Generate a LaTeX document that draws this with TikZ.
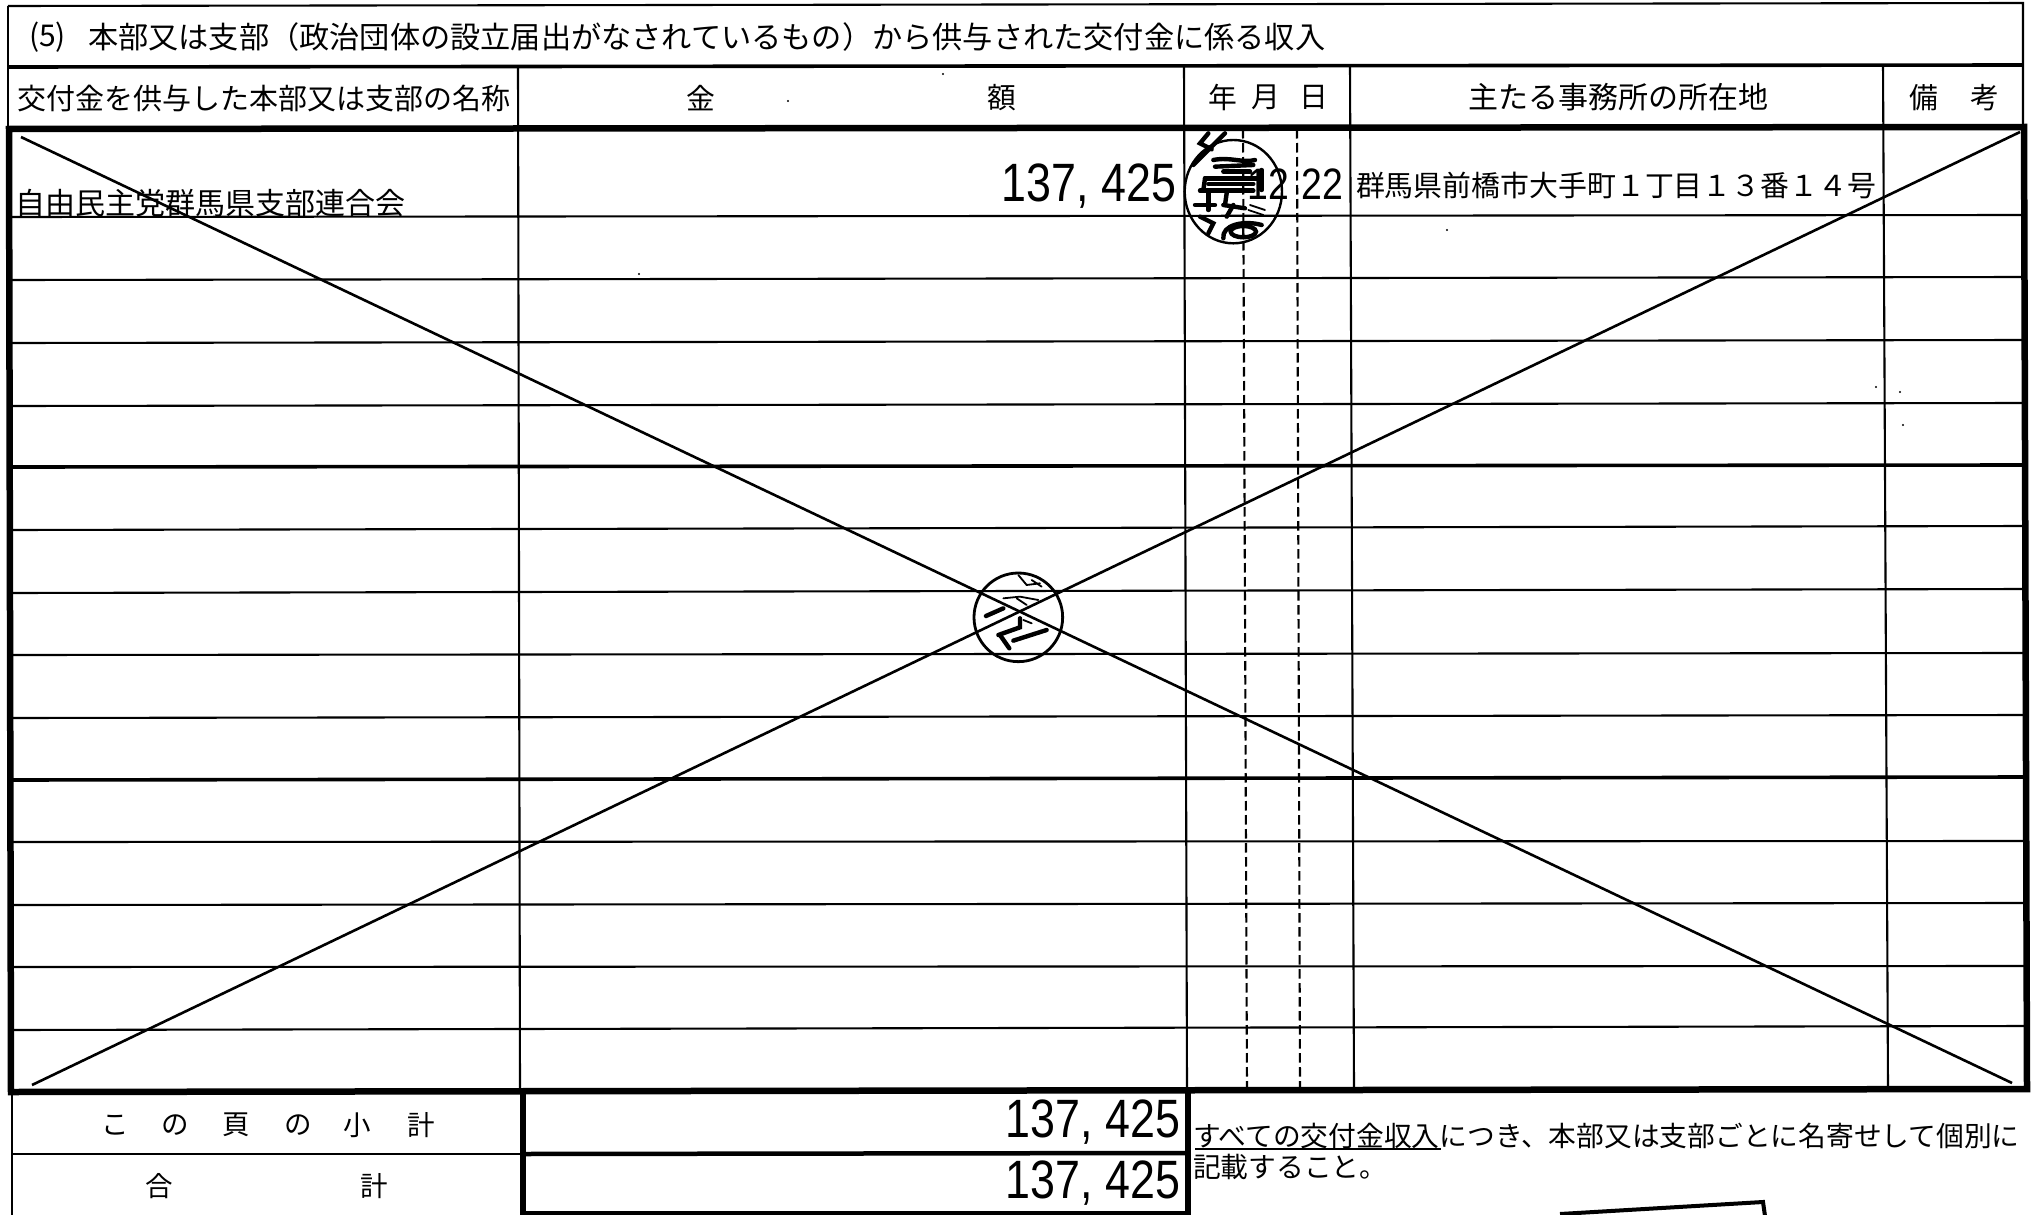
\documentclass[tikz,border=0pt]{standalone}
\usepackage{fontspec}
\setmainfont{Noto Sans CJK JP}
\newfontfamily\digitfont{Liberation Sans}
\newcommand{\amount}[1]{\scalebox{.83}[1]{\digitfont\fontsize{54pt}{60pt}\selectfont #1}}
\newcommand{\smallamount}[1]{\scalebox{.85}[1]{\digitfont\fontsize{44pt}{50pt}\selectfont #1}}
\tikzset{
  thinrule/.style={line width=2.1pt,black},
  midrule/.style={line width=3.6pt,black},
  thickrule/.style={line width=6.5pt,black},
  crossline/.style={line width=2.6pt,black},
  sealline/.style={line width=1.8pt,black,line cap=round},
  sealblob/.style={line width=4.4pt,black,line cap=round},
  txtbase/.style={inner sep=0pt,outer sep=0pt,black},
  txtA/.style={txtbase,font=\fontsize{30pt}{36pt}\selectfont},
  txtB/.style={txtbase,font=\fontsize{28.8pt}{34pt}\selectfont},
  txtC/.style={txtbase,font=\fontsize{27.5pt}{33pt}\selectfont},
}
\begin{document}
\begin{tikzpicture}[x=1pt,y=-1pt]
\path[use as bounding box,fill=white] (0,0) rectangle (2035,1215);

% header frame
\draw[thinrule] (8,6) -- (2023,3) -- (2023,127);
\draw[thinrule] (8,6) -- (8,129);
\draw[midrule] (8,67) -- (2023,65);

% columns
\draw[thinrule] (518,67) -- (520,1092);
\draw[thinrule] (1184,66) -- (1187,1089);
\draw[thinrule] (1350,66) -- (1354,1089);
\draw[thinrule] (1883,65) -- (1888,1089);
\draw[thinrule,dash pattern=on 9.5pt off 4.5pt] (1243,129) -- (1247,1089);
\draw[thinrule,dash pattern=on 9.5pt off 4.5pt] (1297,129) -- (1300,1089);

% rows
\foreach \ya/\yb in {217/215,280/277,343/340,406/403,530/526,593/589,655/653,718/715,842/841,905/903,967/966,1030/1026}
  \draw[thinrule] (10,\ya) -- (2026,\yb);
\foreach \ya/\yb in {467/465,780/777}
  \draw[midrule] (10,\ya) -- (2026,\yb);

% thick outer frame
\draw[thickrule,line join=miter] (9,129) -- (2024,127) -- (2027,1089) -- (11,1092) -- cycle;

% subtotal block
\draw[thinrule] (12,1092) -- (12,1215);
\draw[thinrule] (12,1154) -- (523,1154);
\draw[thickrule,line width=5.5pt] (523,1092) -- (523,1215);
\draw[thickrule,line width=5.5pt] (1188,1089) -- (1188,1215);
\draw[thickrule,line width=4.5pt] (523,1154) -- (1188,1153);
\draw[thickrule,line width=3.5pt] (523,1213) -- (1188,1213);

% crossing-out diagonals
\coordinate (da) at (21,137);
\coordinate (db) at (2012,1083);
\coordinate (dc) at (32,1085);
\coordinate (dd) at (2020,132);
\draw[crossline] (da) -- (db);
\draw[crossline] (dc) -- (dd);

% title and heads
\node[txtA,anchor=west] (title5) at (29,37) {(5)};
\node[txtA,anchor=west,font=\fontsize{30.2pt}{36pt}\selectfont] (title) at (88,37) {本部又は支部（政治団体の設立届出がなされているもの）から供与された交付金に係る収入};
\node[txtB,anchor=west,font=\fontsize{29pt}{34pt}\selectfont] (hname) at (17,98) {交付金を供与した本部又は支部の名称};
\node[txtB] (hkin) at (701,98) {金};
\node[txtB] (hgaku) at (1002,98) {額};
\node[txtB] (hy) at (1223,97) {年};
\node[txtB] (hm) at (1266,97) {月};
\node[txtB] (hd) at (1314,97) {日};
\node[txtB,font=\fontsize{30pt}{36pt}\selectfont] (haddr) at (1618,97) {主たる事務所の所在地};
\node[txtB] (hb1) at (1924,98) {備};
\node[txtB] (hb2) at (1985,98) {考};

% first row
\node[txtA,anchor=west] (name) at (16,203) {自由民主党群馬県支部連合会};
\node[txtbase,anchor=east] (amt) at (1176,186) {\amount{137, 425}};
\node[txtbase,anchor=east] (mon) at (1289,184) {\smallamount{12}};
\node[txtbase,anchor=east] (day) at (1343,184) {\smallamount{22}};
\node[txtB,anchor=west,font=\fontsize{28.9pt}{34pt}\selectfont] (addr) at (1356,185) {群馬県前橋市大手町１丁目１３番１４号};

% subtotals
\node[txtC] (s1) at (115,1125) {こ};
\node[txtC] (s2) at (175,1125) {の};
\node[txtC] (s3) at (236,1125) {頁};
\node[txtC] (s4) at (298,1125) {の};
\node[txtC] (s5) at (357,1125) {小};
\node[txtC] (s6) at (421,1125) {計};
\node[txtC] (t1) at (159,1186) {合};
\node[txtC] (t2) at (374,1186) {計};
\node[txtbase,anchor=east] (sub) at (1180,1122) {\amount{137, 425}};
\node[txtbase,anchor=east] (tot) at (1180,1183) {\amount{137, 425}};

% note
\node[txtC,anchor=west,font=\fontsize{27.75pt}{33pt}\selectfont] (note1) at (1193,1136) {すべての交付金収入につき、本部又は支部ごとに名寄せして個別に};
\node[txtC,anchor=west,font=\fontsize{27.75pt}{33pt}\selectfont] (note2) at (1193,1167) {記載すること。};
\draw[thinrule] (1195,1149) -- (1441,1149);

% partial box bottom right
\draw[line width=4pt,black] (1560,1214) -- (1763,1202) -- (1765,1216);

% upper seal
\begin{scope}[shift={(1150,110)},x=0.3333pt,y=-0.3333pt]
  \draw[line width=2.4pt,black] (250,245) ellipse (146 and 155);
  \draw[sealblob] (175,70) -- (150,100) -- (185,118);
  \draw[sealblob] (225,70) -- (130,165);
  \draw[sealblob] (190,150) .. controls (240,140) and (280,160) .. (315,150);
  \draw[sealblob] (195,170) -- (310,165);
  \draw[sealblob] (220,185) -- (300,185);
  \draw[sealblob] (165,205) -- (335,205);
  \draw[sealblob] (175,222) -- (310,222);
  \draw[sealblob] (150,242) -- (310,242);
  \draw[sealblob] (335,180) -- (335,240);
  \draw[sealblob] (165,205) -- (160,240);
  \draw[sealblob] (230,250) -- (225,285);
  \draw[sealblob] (175,250) -- (175,300);
  \draw[sealblob] (135,285) -- (195,285);
  \draw[sealblob] (220,285) -- (285,295);
  \draw[sealblob] (250,285) -- (230,320);
  \draw[sealline] (300,285) -- (345,300);
  \draw[sealline] (295,300) -- (340,315);
  \draw[sealblob] (150,320) -- (190,340) -- (175,370);
  \draw[sealblob] (220,385) .. controls (215,345) and (280,330) .. (335,345);
  \draw[sealblob] (280,365) ellipse (38 and 17);
  \draw[sealline] (280,345) -- (280,385);
\end{scope}

% lower seal
\begin{scope}[shift={(920,540)},x=0.3333pt,y=-0.3333pt]
  \draw[line width=2.8pt,black] (295,232) circle (133);
  \draw[sealline] (295,105) -- (320,135) -- (360,130);
  \draw[sealline] (335,120) -- (365,140);
  \draw[sealline] (250,175) -- (300,170) -- (355,180);
  \draw[sealline] (290,175) -- (320,195);
  \draw[sealblob] (198,228) -- (250,205);
  \draw[sealblob] (235,285) -- (300,262) -- (300,235);
  \draw[sealline] (310,240) -- (335,250);
  \draw[sealblob] (280,302) -- (380,270);
  \draw[sealblob] (240,285) -- (268,325);
\end{scope}

% specks
\foreach \sx/\sy in {639/274,788/101,943/74,1447/230,1876/387,1900/392,1903/425}
  \fill[black] (\sx,\sy) circle (1.2pt);
\end{tikzpicture}
\end{document}
